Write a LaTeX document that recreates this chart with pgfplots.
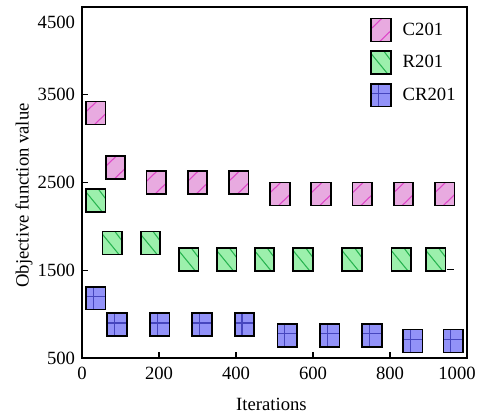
\documentclass[border=0pt]{standalone}
\usepackage{pgfplots}
\pgfplotsset{compat=1.18}
\usepackage{fontspec}
\setmainfont{Liberation Serif}
\definecolor{pinkfill}{RGB}{232,170,224}
\definecolor{pinkline}{RGB}{222,70,200}
\definecolor{greenfill}{RGB}{156,240,172}
\definecolor{greenline}{RGB}{40,180,80}
\definecolor{bluefill}{RGB}{146,146,248}
\definecolor{blueline}{RGB}{70,70,190}
\newcommand{\sqpath}{\pgfpathrectangle{\pgfpoint{-7.35pt}{-8.6pt}}{\pgfpoint{14.7pt}{17.2pt}}}
\pgfdeclareplotmark{mC}{%
 \begin{pgfscope}
 \pgfsetfillcolor{pinkfill}\sqpath\pgfusepath{fill}%
 \pgfsetlinewidth{0.8pt}\pgfsetstrokecolor{pinkline}%
 \pgfpathmoveto{\pgfpoint{-7.35pt}{1pt}}\pgfpathlineto{\pgfpoint{0.5pt}{8.6pt}}%
 \pgfpathmoveto{\pgfpoint{-1pt}{-8.6pt}}\pgfpathlineto{\pgfpoint{7.35pt}{-0.5pt}}%
 \pgfusepath{stroke}%
 \pgfsetstrokecolor{black}\pgfsetlinewidth{1.25pt}\sqpath\pgfusepath{stroke}%
 \end{pgfscope}}
\pgfdeclareplotmark{mR}{%
 \begin{pgfscope}
 \pgfsetfillcolor{greenfill}\sqpath\pgfusepath{fill}%
 \pgfsetlinewidth{0.8pt}\pgfsetstrokecolor{greenline}%
 \pgfpathmoveto{\pgfpoint{-7.35pt}{6.5pt}}\pgfpathlineto{\pgfpoint{5pt}{-8.6pt}}%
 \pgfpathmoveto{\pgfpoint{2pt}{8.6pt}}\pgfpathlineto{\pgfpoint{7.35pt}{1.5pt}}%
 \pgfusepath{stroke}%
 \pgfsetstrokecolor{black}\pgfsetlinewidth{1.25pt}\sqpath\pgfusepath{stroke}%
 \end{pgfscope}}
\pgfdeclareplotmark{mCR}{%
 \begin{pgfscope}
 \pgfsetfillcolor{bluefill}\sqpath\pgfusepath{fill}%
 \pgfsetlinewidth{0.9pt}\pgfsetstrokecolor{blueline}%
 \pgfpathmoveto{\pgfpoint{-1.8pt}{-8.6pt}}\pgfpathlineto{\pgfpoint{-1.8pt}{8.6pt}}%
 \pgfpathmoveto{\pgfpoint{-7.35pt}{1.2pt}}\pgfpathlineto{\pgfpoint{7.35pt}{1.2pt}}%
 \pgfusepath{stroke}%
 \pgfsetstrokecolor{black}\pgfsetlinewidth{1.25pt}\sqpath\pgfusepath{stroke}%
 \end{pgfscope}}
\begin{document}
\begin{tikzpicture}
\useasboundingbox (-61.5pt,-43.5pt) rectangle (299.25pt,268.5pt);
\begin{axis}[
  at={(0,0)}, anchor=south west,
  scale only axis, width=288.75pt, height=263.25pt,
  xmin=0, xmax=1000, ymin=500, ymax=4500,
  xtick={0,200,400,600,800}, ytick={500,1500,2500,3500},
  extra x ticks={1000}, extra x tick labels={1000},
  extra x tick style={major tick length=0pt, tick label style={xshift=-7.5pt}},
  extra y ticks={4330}, extra y tick labels={4500},
  extra y tick style={major tick length=0pt},
  xtick pos=bottom, ytick pos=left,
  tick align=inside, major tick length=4.5pt,
  tick style={black, line width=1pt},
  axis line style={line width=1.1pt},
  /pgf/number format/assume math mode=true,
  /pgf/number format/1000 sep={},
  tick label style={font=\fontsize{14}{16}\selectfont},
  yticklabel style={inner sep=0pt, anchor=east, xshift=-5pt},
  xticklabel style={inner sep=0pt, anchor=north, yshift=-6.5pt},
  xlabel={Iterations},
  ylabel={Objective function value},
  xlabel style={font=\fontsize{14}{16}\selectfont, inner sep=0pt, at={(axis description cs:0.492,-0.114)}, anchor=north},
  ylabel style={font=\fontsize{14}{16}\selectfont, inner sep=0pt, at={(axis description cs:-0.1273,0.463)}, anchor=south},
  legend style={draw=none, fill=none, at={(0.985,0.978)}, anchor=north east,
    font=\fontsize{14}{16}\selectfont, row sep=6pt, inner sep=2pt},
  legend cell align=left,
  legend image code/.code={\draw[#1] plot coordinates {(0pt,0pt)}; \node[draw=none, fill=none, inner sep=0pt, minimum width=22pt, minimum height=1pt, anchor=west] at (-8pt,0pt) {};},
]
\addplot[only marks, mark=mC] coordinates {
 (36,3291) (87,2669) (193,2499) (300,2499) (407,2499)
 (514,2368) (621,2368) (728,2368) (835,2368) (942,2368)};
\addlegendentry{C201}
\addplot[only marks, mark=mR] coordinates {
 (36,2292) (79,1809) (178,1809) (277,1623) (376,1623)
 (474,1623) (574,1625) (701,1625) (829,1625) (919,1625)};
\addlegendentry{R201}
\addplot[only marks, mark=mCR] coordinates {
 (36,1182) (91,880) (202,880) (312,880) (422,880)
 (533,759) (643,759) (753,759) (859,694) (964,694)};
\addlegendentry{CR201}
\addplot[black, line width=0.8pt, forget plot] coordinates {(947,1510) (965,1510)};
\end{axis}
\end{tikzpicture}
\end{document}
